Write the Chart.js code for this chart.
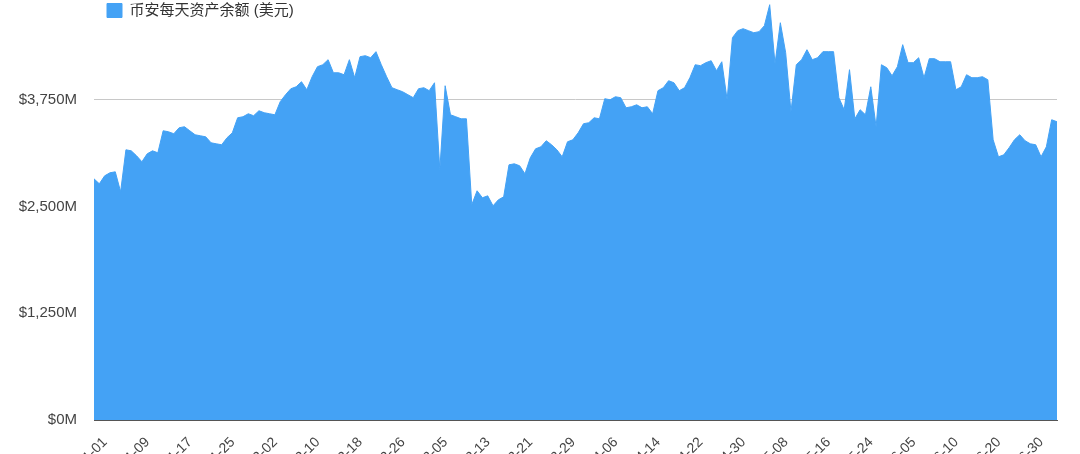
<!DOCTYPE html>
<html>
<head>
<meta charset="utf-8">
<title>币安每天资产余额</title>
<script src="https://cdn.jsdelivr.net/npm/chart.js@4.4.1/dist/chart.umd.min.js"></script>
<style>
  html, body { margin: 0; padding: 0; background: #fff; overflow: hidden; }
  /* the reference is a crop: y max label and the date labels fall outside the window */
  #wrap { position: absolute; left: 0; top: -33px; width: 1080px; height: 513px; }
</style>
</head>
<body>
<div id="wrap"><canvas id="balance-chart"></canvas></div>
<script>
// Data (millions of USD)
const seriesName = '币安每天资产余额 (美元)';

const tickLabels = [
  '2020-01-01', '2020-01-09', '2020-01-17', '2020-01-25', '2020-02-02', '2020-02-10',
  '2020-02-18', '2020-02-26', '2020-03-05', '2020-03-13', '2020-03-21', '2020-03-29',
  '2020-04-06', '2020-04-14', '2020-04-22', '2020-04-30', '2020-05-08', '2020-05-16',
  '2020-05-24', '2020-06-05', '2020-06-10', '2020-06-20', '2020-06-30'
];

const balances = [
  2824, 2766, 2859, 2895, 2906, 2672, 3164, 3152, 3094, 3024,
  3117, 3152, 3129, 3387, 3375, 3352, 3422, 3434, 3387, 3340,
  3328, 3316, 3246, 3234, 3223, 3305, 3363, 3539, 3551, 3586,
  3563, 3621, 3598, 3586, 3574, 3727, 3809, 3879, 3902, 3961,
  3867, 4020, 4137, 4160, 4219, 4066, 4066, 4043, 4219, 4008,
  4254, 4266, 4242, 4313, 4160, 4020, 3891, 3867, 3844, 3809,
  3774, 3879, 3891, 3856, 3949, 2930, 3914, 3574, 3551, 3527,
  3527, 2520, 2684, 2602, 2625, 2508, 2578, 2613, 2988, 3000,
  2977, 2883, 3070, 3176, 3199, 3270, 3223, 3164, 3082, 3258,
  3281, 3363, 3469, 3481, 3539, 3527, 3762, 3750, 3785, 3774,
  3656, 3668, 3691, 3656, 3668, 3586, 3856, 3891, 3973, 3949,
  3856, 3891, 4008, 4160, 4149, 4184, 4207, 4090, 4195, 3750,
  4477, 4559, 4582, 4559, 4535, 4547, 4617, 4863, 4172, 4652,
  4301, 3610, 4160, 4219, 4336, 4219, 4242, 4313, 4313, 4313,
  3774, 3633, 4102, 3527, 3633, 3574, 3902, 3434, 4160, 4125,
  4031, 4137, 4395, 4184, 4184, 4242, 4008, 4231, 4231, 4195,
  4195, 4195, 3867, 3902, 4043, 4008, 4008, 4020, 3984, 3281,
  3082, 3105, 3188, 3281, 3340, 3270, 3234, 3223, 3082, 3199,
  3516, 3492
];

const yTicks = [0, 1250, 2500, 3750, 5000];

// one date label every 8 points, the others stay blank
const labelEvery = 8;
const categories = balances.map((v, i) => i % labelEvery === 0 ? tickLabels[i / labelEvery] : '');

const fontFamily = "'Liberation Sans', Arial, 'Noto Sans CJK SC', sans-serif";
const fillColor = '#44a2f5';

// the 'chartArea' legend is laid out at the canvas origin, move it onto the plot
const legendInPlot = {
  id: 'legendInPlot',
  afterLayout(chart) {
    const legend = chart.legend;
    const area = chart.chartArea;
    legend.left = area.left + 3;
    legend.right = area.right;
    legend.top = area.top;
    legend.bottom = area.top + legend.height;
  }
};

const ctx = document.getElementById('balance-chart').getContext('2d');

new Chart(ctx, {
  type: 'line',
  data: {
    labels: categories,
    datasets: [{
      label: seriesName,
      data: balances,
      backgroundColor: fillColor,
      borderColor: fillColor,
      borderWidth: 1,
      pointRadius: 0,
      tension: 0,
      fill: 'origin'
    }]
  },
  options: {
    responsive: true,
    maintainAspectRatio: false,
    animation: false,
    layout: {
      padding: { top: 20, right: 23, bottom: 0, left: 0 }
    },
    plugins: {
      legend: {
        position: 'chartArea',
        align: 'start',
        labels: {
          boxWidth: 15,
          boxHeight: 14,
          padding: 10,
          color: '#333',
          font: { family: fontFamily, size: 15 }
        }
      },
      tooltip: { enabled: false }
    },
    scales: {
      x: {
        afterFit: function(axis) { axis.height = 60; },
        grid: { display: false },
        border: { display: true, color: '#555', width: 1 },
        ticks: {
          autoSkip: false,
          minRotation: 45,
          maxRotation: 45,
          padding: 6,
          labelOffset: 11,
          color: '#444',
          font: { family: fontFamily, size: 14 }
        }
      },
      y: {
        min: yTicks[0],
        max: yTicks[yTicks.length - 1],
        afterFit: function(axis) { axis.width = 94; },
        grid: { color: '#c8c8c8', drawTicks: false },
        border: { display: false },
        ticks: {
          stepSize: yTicks[1] - yTicks[0],
          padding: 17,
          color: '#444',
          font: { family: fontFamily, size: 15 },
          callback: function(value) {
            return '$' + value.toLocaleString('en-US') + 'M';
          }
        }
      }
    }
  },
  plugins: [legendInPlot]
});
</script>
</body>
</html>
